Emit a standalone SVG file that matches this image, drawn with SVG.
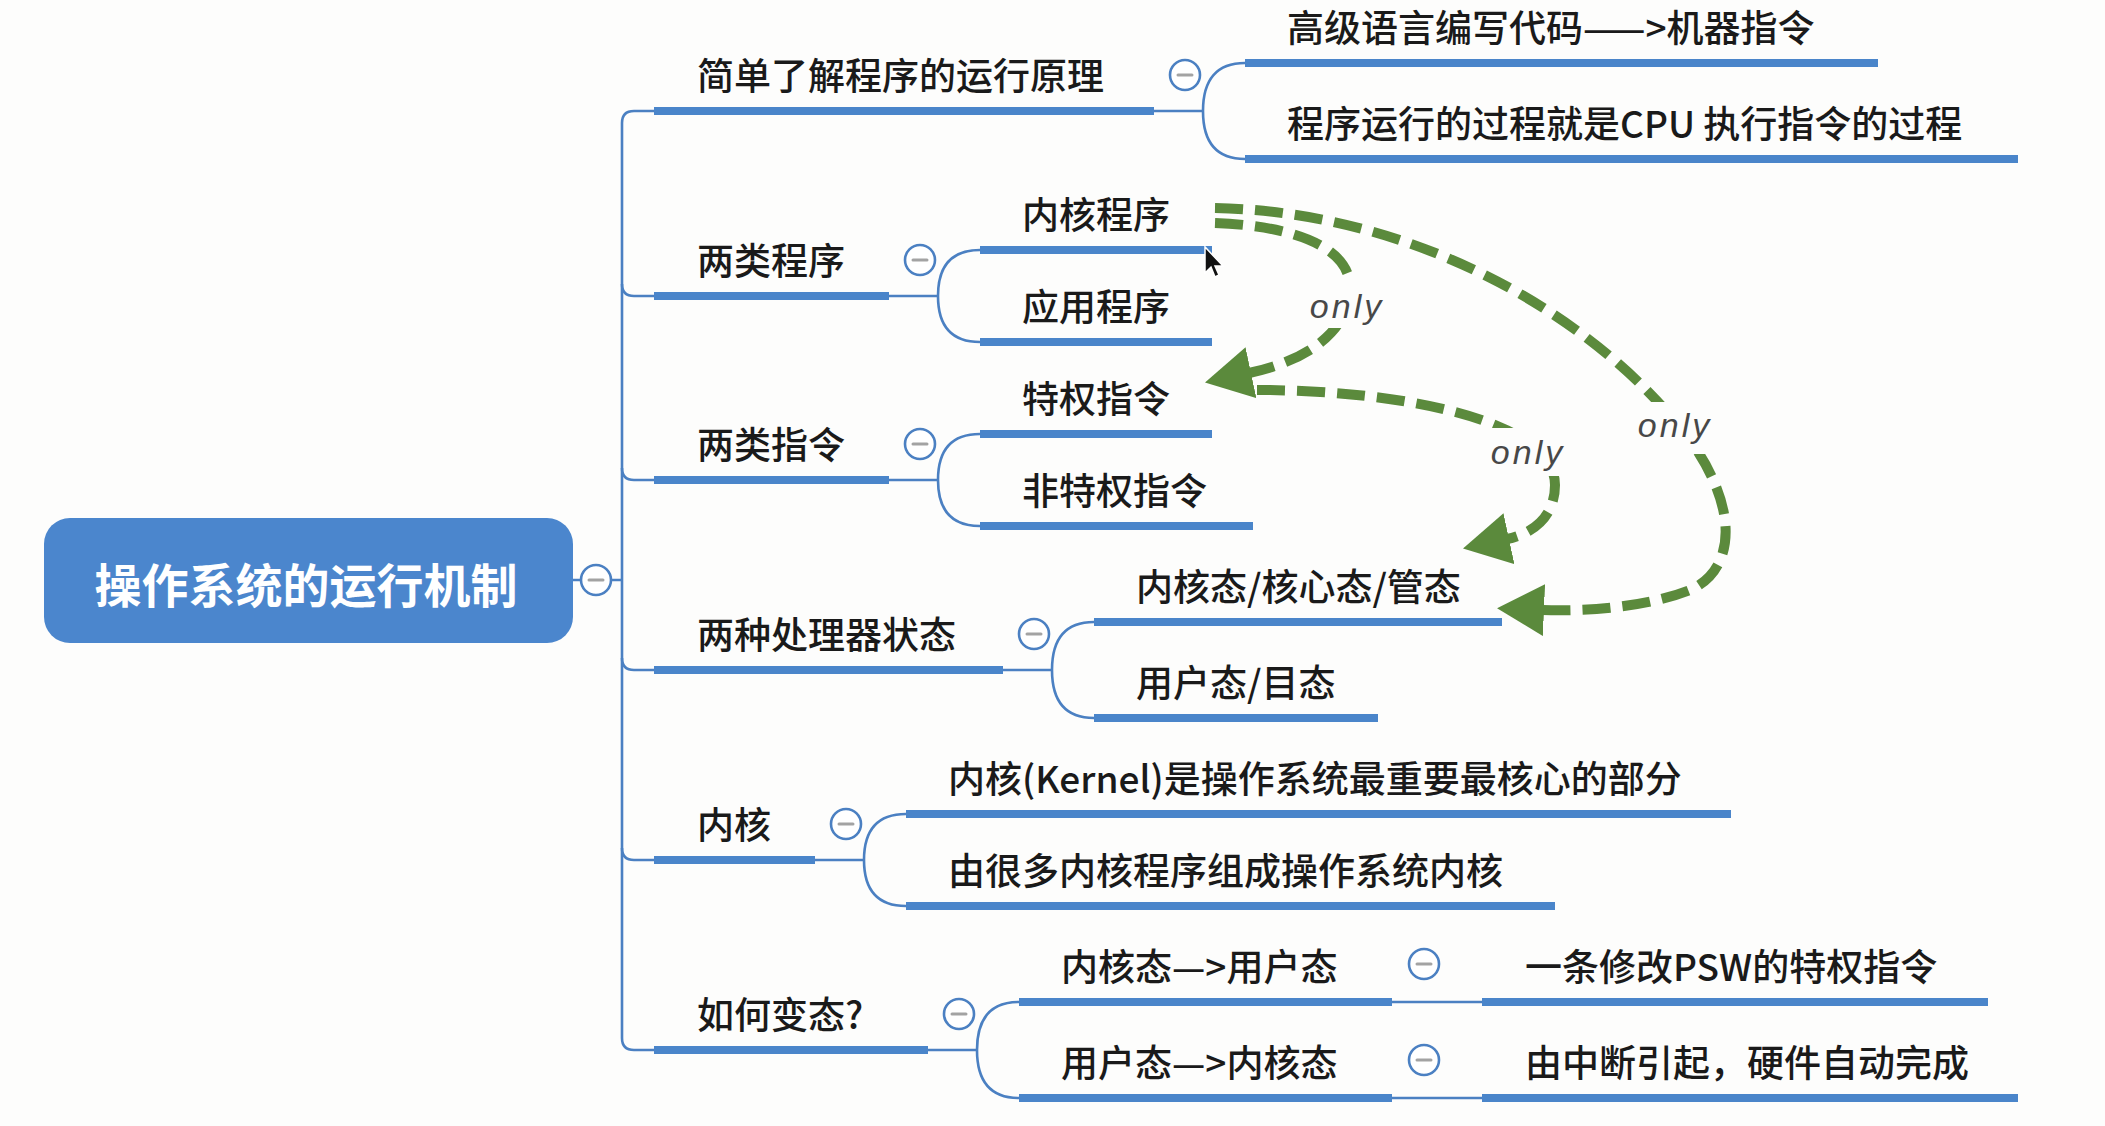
<svg xmlns="http://www.w3.org/2000/svg" width="2105" height="1126" viewBox="0 0 2105 1126">
  <defs>
    <style>
      .bg{fill:#fdfdfc}
      .root{fill:#4b86cd}
      .rt{font-family:"Noto Sans CJK SC","Noto Sans",sans-serif;font-size:47px;font-weight:700;fill:#ffffff;text-anchor:middle}
      .t{font-family:"Noto Sans CJK SC","Noto Sans",sans-serif;font-size:37px;font-weight:500;fill:#1a1a1a}
      .ul{stroke:#4a85ca;stroke-width:8;fill:none}
      .ln{stroke:#4b80c2;stroke-width:2.6;fill:none}
      .tg circle{fill:#ffffff;stroke:#4b80c2;stroke-width:2.6}
      .tg line{stroke:#a3a3a3;stroke-width:3;stroke-linecap:round}
      .rel{fill:none;stroke:#5b8a3c;stroke-width:10;stroke-dasharray:28 12}
      .lab{font-family:"Liberation Sans",sans-serif;font-style:italic;font-size:34px;letter-spacing:3px;fill:#484848;text-anchor:middle}
      .labbg{fill:#fdfdfc}
    </style>
    <marker id="ah" markerUnits="userSpaceOnUse" viewBox="0 0 50 54" markerWidth="50" markerHeight="54" refX="2" refY="26" orient="auto">
      <path d="M0 0 L47 26 L0 52 Z" fill="#5b8a3c"/>
    </marker>
    <g id="toggle" class="tg">
      <circle cx="0" cy="0" r="15"/>
      <line x1="-7" y1="0" x2="7" y2="0"/>
    </g>
  </defs>

  <rect class="bg" x="0" y="0" width="2105" height="1126"/>

  <!-- tree connectors -->
  <g id="connectors">
    <path class="ln" d="M573 580 H622"/>
    <path class="ln" d="M654 111 H634 Q622 111 622 123 V1038 Q622 1050 634 1050 H654"/>
    <path class="ln" d="M622 284 Q622 296 634 296 H654"/>
    <path class="ln" d="M622 468 Q622 480 634 480 H654"/>
    <path class="ln" d="M622 658 Q622 670 634 670 H654"/>
    <path class="ln" d="M622 848 Q622 860 634 860 H654"/>
    <!-- group brackets -->
    <path class="ln" d="M1154 111 H1203 M1203 111 Q1203 63 1245 63 M1203 111 Q1203 159 1245 159"/>
    <path class="ln" d="M889 296 H938 M938 296 Q938 250 980 250 M938 296 Q938 342 980 342"/>
    <path class="ln" d="M889 480 H938 M938 480 Q938 434 980 434 M938 480 Q938 526 980 526"/>
    <path class="ln" d="M1003 670 H1052 M1052 670 Q1052 622 1094 622 M1052 670 Q1052 718 1094 718"/>
    <path class="ln" d="M815 860 H864 M864 860 Q864 814 906 814 M864 860 Q864 906 906 906"/>
    <path class="ln" d="M928 1050 H977 M977 1050 Q977 1002 1019 1002 M977 1050 Q977 1098 1019 1098"/>
    <path class="ln" d="M1392 1002 H1482 M1392 1098 H1482"/>
  </g>

  <!-- central topic -->
  <g id="root">
    <rect class="root" x="44" y="518" width="529" height="125" rx="26"/>
    <text class="rt" x="306" y="603">操作系统的运行机制</text>
    <use href="#toggle" x="596" y="580"/>
  </g>

  <!-- main branches -->
  <g id="n-principle">
    <text class="t" x="697" y="90">简单了解程序的运行原理</text>
    <line class="ul" x1="654" y1="111" x2="1154" y2="111"/>
    <use href="#toggle" x="1185" y="75"/>
  </g>
  <g id="n-principle-1">
    <text class="t" x="1287" y="42">高级语言编写代码——&gt;机器指令</text>
    <line class="ul" x1="1245" y1="63" x2="1878" y2="63"/>
  </g>
  <g id="n-principle-2">
    <text class="t" x="1287" y="138">程序运行的过程就是CPU 执行指令的过程</text>
    <line class="ul" x1="1245" y1="159" x2="2018" y2="159"/>
  </g>

  <g id="n-programs">
    <text class="t" x="697" y="275">两类程序</text>
    <line class="ul" x1="654" y1="296" x2="889" y2="296"/>
    <use href="#toggle" x="920" y="260"/>
  </g>
  <g id="n-kernel-program">
    <text class="t" x="1022" y="229">内核程序</text>
    <line class="ul" x1="980" y1="250" x2="1212" y2="250"/>
  </g>
  <g id="n-app-program">
    <text class="t" x="1022" y="321">应用程序</text>
    <line class="ul" x1="980" y1="342" x2="1212" y2="342"/>
  </g>

  <g id="n-instructions">
    <text class="t" x="697" y="459">两类指令</text>
    <line class="ul" x1="654" y1="480" x2="889" y2="480"/>
    <use href="#toggle" x="920" y="444"/>
  </g>
  <g id="n-privileged">
    <text class="t" x="1022" y="413">特权指令</text>
    <line class="ul" x1="980" y1="434" x2="1212" y2="434"/>
  </g>
  <g id="n-nonprivileged">
    <text class="t" x="1022" y="505">非特权指令</text>
    <line class="ul" x1="980" y1="526" x2="1253" y2="526"/>
  </g>

  <g id="n-states">
    <text class="t" x="697" y="649">两种处理器状态</text>
    <line class="ul" x1="654" y1="670" x2="1003" y2="670"/>
    <use href="#toggle" x="1034" y="634"/>
  </g>
  <g id="n-kernel-mode">
    <text class="t" x="1136" y="601">内核态/核心态/管态</text>
    <line class="ul" x1="1094" y1="622" x2="1502" y2="622"/>
  </g>
  <g id="n-user-mode">
    <text class="t" x="1136" y="697">用户态/目态</text>
    <line class="ul" x1="1094" y1="718" x2="1378" y2="718"/>
  </g>

  <g id="n-kernel">
    <text class="t" x="697" y="839">内核</text>
    <line class="ul" x1="654" y1="860" x2="815" y2="860"/>
    <use href="#toggle" x="846" y="824"/>
  </g>
  <g id="n-kernel-1">
    <text class="t" x="948" y="793">内核(Kernel)是操作系统最重要最核心的部分</text>
    <line class="ul" x1="906" y1="814" x2="1731" y2="814"/>
  </g>
  <g id="n-kernel-2">
    <text class="t" x="948" y="885">由很多内核程序组成操作系统内核</text>
    <line class="ul" x1="906" y1="906" x2="1555" y2="906"/>
  </g>

  <g id="n-switch">
    <text class="t" x="697" y="1029">如何变态?</text>
    <line class="ul" x1="654" y1="1050" x2="928" y2="1050"/>
    <use href="#toggle" x="959" y="1014"/>
  </g>
  <g id="n-k2u">
    <text class="t" x="1061" y="981">内核态—&gt;用户态</text>
    <line class="ul" x1="1019" y1="1002" x2="1392" y2="1002"/>
    <use href="#toggle" x="1424" y="964"/>
  </g>
  <g id="n-k2u-how">
    <text class="t" x="1525" y="981">一条修改PSW的特权指令</text>
    <line class="ul" x1="1482" y1="1002" x2="1988" y2="1002"/>
  </g>
  <g id="n-u2k">
    <text class="t" x="1061" y="1077">用户态—&gt;内核态</text>
    <line class="ul" x1="1019" y1="1098" x2="1392" y2="1098"/>
    <use href="#toggle" x="1424" y="1060"/>
  </g>
  <g id="n-u2k-how">
    <text class="t" x="1525" y="1077">由中断引起，硬件自动完成</text>
    <line class="ul" x1="1482" y1="1098" x2="2018" y2="1098"/>
  </g>

  <!-- "only" relationships -->
  <g id="relations">
    <path class="rel" d="M1215 223 C1300 226 1352 250 1350 290 C1348 330 1310 360 1249 373" marker-end="url(#ah)"/>
    <path class="rel" d="M1257 390 C1400 390 1555 420 1555 485 C1555 515 1535 533 1507 539" marker-end="url(#ah)"/>
    <path class="rel" d="M1215 208 C1420 212 1600 320 1690 440 C1740 510 1735 570 1690 590 C1650 606 1590 612 1542 610" marker-end="url(#ah)"/>
    <rect class="labbg" x="1306" y="280" width="84" height="48"/>
    <text class="lab" x="1347" y="318">only</text>
    <rect class="labbg" x="1484" y="428" width="90" height="48"/>
    <text class="lab" x="1528" y="464">only</text>
    <rect class="labbg" x="1632" y="402" width="86" height="52"/>
    <text class="lab" x="1675" y="437">only</text>
  </g>

  <!-- pointer -->
  <path d="M1205 247 L1205 273 L1211 267 L1215 277 L1219 275 L1215 266 L1223 266 Z" fill="#111" stroke="#fff" stroke-width="1.5"/>
</svg>
